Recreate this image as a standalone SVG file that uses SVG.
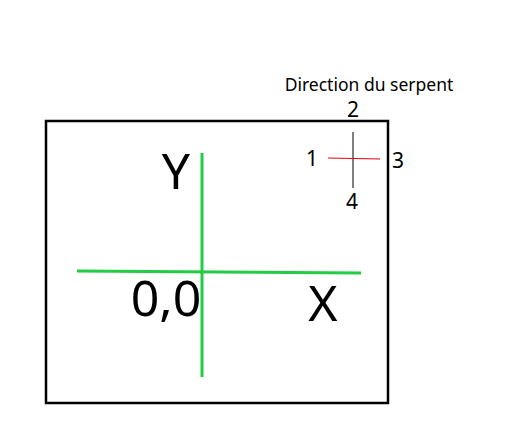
<svg xmlns="http://www.w3.org/2000/svg" width="520" height="432" viewBox="0 0 520 432">
<style>
text{font-family:"Noto Sans","Open Sans","Liberation Sans",sans-serif;fill:#000}
.big{font-size:50px}
.num{font-size:21px}
.axis{stroke:#22cc44;stroke-width:3;fill:none}
</style>
<rect width="520" height="432" fill="#fff"/>
<g id="frame"><rect x="46" y="121" width="342" height="282" fill="none" stroke="#000" stroke-width="2.5"/></g>
<g id="connectors">
<line class="axis" x1="202" y1="153" x2="202" y2="377"/>
<line class="axis" x1="77" y1="271" x2="361" y2="273"/>
<line x1="353" y1="132" x2="353" y2="188" stroke="#000" stroke-width="1"/>
<line x1="328" y1="158" x2="380" y2="159" stroke="#e8000b" stroke-width="1"/>
</g>
<g id="labels">
<text class="big" x="176" y="189" text-anchor="middle">Y</text>
<text class="big" x="166" y="316" text-anchor="middle">0,0</text>
<text class="big" x="323" y="321" text-anchor="middle">X</text>
<text x="369" y="91" font-size="17.5" text-anchor="middle">Direction du serpent</text>
<text class="num" x="353" y="117" text-anchor="middle">2</text>
<text class="num" x="312" y="166" text-anchor="middle">1</text>
<text class="num" x="398" y="168" text-anchor="middle">3</text>
<text class="num" x="352" y="209" text-anchor="middle">4</text>
</g>
</svg>
